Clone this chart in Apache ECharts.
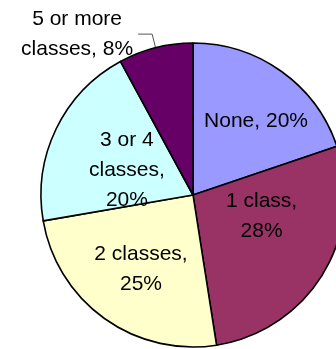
<!DOCTYPE html>
<html>
<head>
<meta charset="utf-8">
<style>
  html, body { margin: 0; padding: 0; background: #ffffff; }
  #chart { width: 336px; height: 349px; }
</style>
<script src="https://cdn.jsdelivr.net/npm/echarts@6/dist/echarts.min.js"></script>
</head>
<body>
<div id="chart"></div>
<script>
// Number of classes taken (share of respondents, %)
const categories = ['None', '1 class', '2 classes', '3 or 4\nclasses', '5 or more\nclasses'];
const shares = [20, 28, 25, 20, 8];
// whether the percentage goes on its own line under the name
const valueOnNewLine = [false, true, true, true, false];
const sliceColors = ['#9999FF', '#993366', '#FFFFCC', '#CCFFFF', '#660066'];

// small nudges of the inside labels away from the sector midpoints
const labelNudge = [[17, -10], [1, -20], [-6, 10], [5, 10], [0, 0]];

const chart = echarts.init(document.getElementById('chart'), null, { renderer: 'canvas' });

const FONT = '"Liberation Sans", Arial, sans-serif';

const data = categories.map((name, i) => {
  const item = {
    name: name,
    value: shares[i],
    itemStyle: { color: sliceColors[i] }
  };
  if (i === 4) {
    // the thin slice is labelled outside with a leader line
    item.label = {
      position: 'outside',
      formatter: (p) => p.name.split('\n').map((s, k, arr) =>
        '{c|' + s + (k === arr.length - 1 ? ', ' + p.value + '%' : '') + '}').join('\n'),
      rich: { c: { align: 'center', fontSize: 21, lineHeight: 30, color: '#000', fontFamily: FONT } }
    };
    item.labelLine = {
      show: true,
      length: 14,
      length2: 14,
      lineStyle: { color: '#555', width: 1 }
    };
  }
  return item;
});

chart.setOption({
  animation: false,
  backgroundColor: '#ffffff',
  series: [{
    type: 'pie',
    center: [193, 195],
    radius: [0, 152],
    startAngle: 90,
    clockwise: true,
    avoidLabelOverlap: false,
    data: data,
    itemStyle: { borderColor: '#000000', borderWidth: 1.6 },
    label: {
      show: true,
      position: 'inside',
      color: '#000000',
      fontFamily: FONT,
      fontSize: 21,
      lineHeight: 30,
      formatter: (p) => p.name + ',' + (valueOnNewLine[p.dataIndex] ? '\n' : ' ') + p.value + '%'
    },
    labelLine: { show: false },
    labelLayout: (params) => {
      const n = labelNudge[params.dataIndex];
      return { dx: n[0], dy: n[1] };
    },
    emphasis: { disabled: true }
  }]
});
</script>
</body>
</html>
